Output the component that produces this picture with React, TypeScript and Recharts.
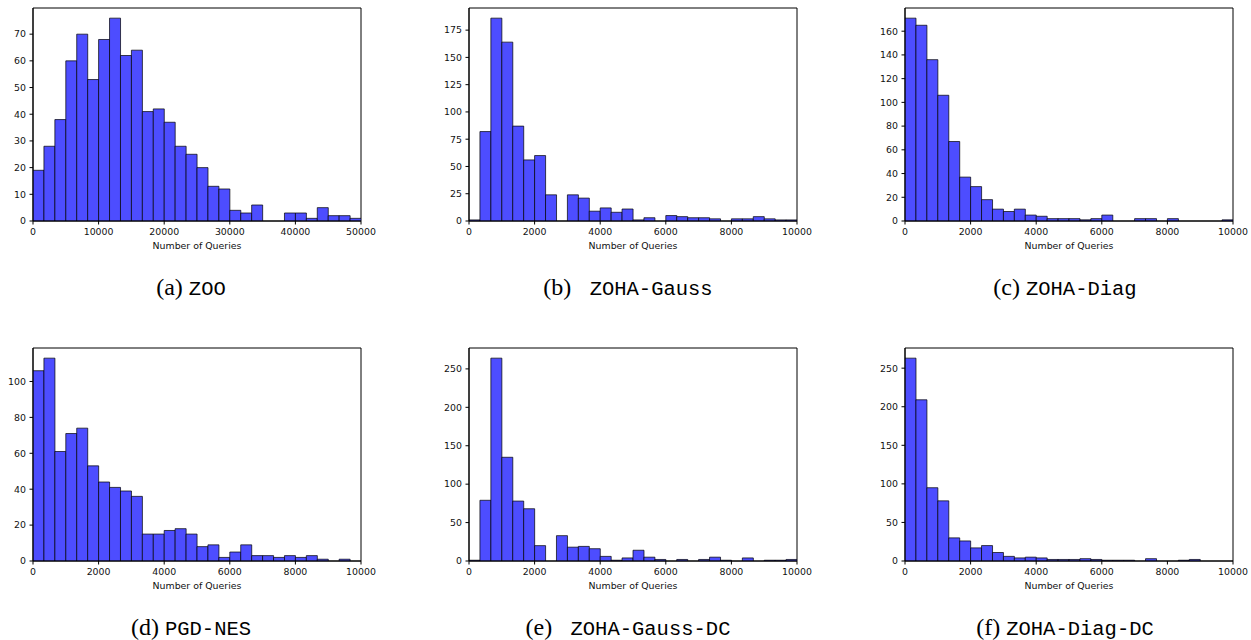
import { BarChart, Bar, XAxis, YAxis, ReferenceArea } from 'recharts'

// bin counts (30 equal bins each)
const zooCounts = [19, 28, 38, 60, 70, 53, 68, 76, 62, 64, 41, 42, 37, 28, 25, 20, 13, 12, 4, 3, 6, 0, 0, 3, 3, 1, 5, 2, 2, 1]
const gaussCounts = [1, 82, 186, 164, 87, 56, 60, 24, 0, 24, 21, 9, 12, 8, 11, 1, 3, 0, 5, 4, 3, 3, 2, 0, 2, 2, 4, 2, 1, 1]
const diagCounts = [171, 165, 136, 106, 67, 37, 29, 18, 10, 8, 10, 5, 4, 2, 2, 2, 1, 2, 5, 0, 0, 2, 2, 0, 2, 0, 0, 0, 0, 1]
const nesCounts = [106, 113, 61, 71, 74, 53, 44, 41, 39, 36, 15, 15, 17, 18, 15, 8, 9, 2, 5, 9, 3, 3, 2, 3, 2, 3, 1, 0, 1, 0]
const gaussDcCounts = [1, 79, 264, 135, 78, 68, 20, 0, 33, 18, 19, 16, 6, 1, 4, 14, 5, 2, 0, 2, 0, 2, 5, 1, 0, 4, 0, 1, 1, 2]
const diagDcCounts = [263, 209, 95, 78, 30, 26, 17, 20, 11, 6, 4, 5, 4, 2, 2, 2, 3, 2, 1, 1, 1, 0, 3, 0, 0, 1, 2, 0, 0, 0]

const xTicks50k = [0, 10000, 20000, 30000, 40000, 50000]
const xTicks10k = [0, 2000, 4000, 6000, 8000, 10000]
const yTicksZoo = [0, 10, 20, 30, 40, 50, 60, 70]
const yTicksGauss = [0, 25, 50, 75, 100, 125, 150, 175]
const yTicksDiag = [0, 20, 40, 60, 80, 100, 120, 140, 160]
const yTicksNes = [0, 20, 40, 60, 80, 100]
const yTicks250 = [0, 50, 100, 150, 200, 250]

const tags = ['(a)', '(b)', '(c)', '(d)', '(e)', '(f)']
const methods = ['ZOO', ' ZOHA-Gauss', 'ZOHA-Diag', 'PGD-NES', ' ZOHA-Gauss-DC', 'ZOHA-Diag-DC']

const panels = [
  { counts: zooCounts, xMax: 50000, xTicks: xTicks50k, yTicks: yTicksZoo },
  { counts: gaussCounts, xMax: 10000, xTicks: xTicks10k, yTicks: yTicksGauss },
  { counts: diagCounts, xMax: 10000, xTicks: xTicks10k, yTicks: yTicksDiag },
  { counts: nesCounts, xMax: 10000, xTicks: xTicks10k, yTicks: yTicksNes },
  { counts: gaussDcCounts, xMax: 10000, xTicks: xTicks10k, yTicks: yTicks250 },
  { counts: diagDcCounts, xMax: 10000, xTicks: xTicks10k, yTicks: yTicks250 },
]

const plotLefts = [33, 469, 905]
const plotTops = [8, 348]
const captionCenters = [191, 628, 1065]
const captionTops = [275, 615]

const tickStyle = { fill: '#111', fontSize: 9.4, fontFamily: 'DejaVu Sans' }

interface HistogramProps {
  counts: number[]
  xMax: number
  xTicks: number[]
  yTicks: number[]
}

function Histogram({ counts, xMax, xTicks, yTicks }: HistogramProps) {
  const binWidth = xMax / counts.length
  const data = counts.map((count, i) => ({ x: (i + 0.5) * binWidth, count }))
  const yMax = Math.max(...counts) * 1.05

  return (
    <BarChart
      width={381}
      height={255}
      data={data}
      margin={{ top: 8, right: 20, bottom: 4, left: 5 }}
      barCategoryGap={0}
      barGap={0}
    >
      <XAxis
        dataKey="x"
        type="number"
        domain={[0, xMax]}
        ticks={xTicks}
        allowDataOverflow
        interval={0}
        height={30}
        tick={tickStyle}
        tickSize={3.5}
        tickMargin={3.5}
        stroke="#000"
        label={{
          value: 'Number of Queries',
          position: 'insideBottom',
          offset: 2,
          fill: '#111',
          fontSize: 9.4,
          fontFamily: 'DejaVu Sans',
        }}
      />
      <YAxis
        type="number"
        domain={[0, yMax]}
        ticks={yTicks}
        allowDataOverflow
        interval={0}
        width={28}
        tick={tickStyle}
        tickSize={3.5}
        tickMargin={3.5}
        stroke="#000"
      />
      <Bar
        dataKey="count"
        fill="#4d4dff"
        stroke="#000"
        strokeOpacity={0.7}
        strokeWidth={1}
        isAnimationActive={false}
      />
      <ReferenceArea
        x1={0}
        x2={xMax}
        y1={0}
        y2={yMax}
        fill="none"
        fillOpacity={0}
        stroke="#000"
        strokeWidth={1}
        ifOverflow="visible"
      />
    </BarChart>
  )
}

export default function App() {
  return (
    <div
      style={{
        position: 'absolute',
        left: 0,
        top: 0,
        width: 1251,
        height: 640,
        background: '#fff',
        overflow: 'hidden',
      }}
    >
      {panels.map((p, i) => {
        const col = i % 3
        const row = Math.floor(i / 3)
        return (
          <div key={i}>
            <div style={{ position: 'absolute', left: plotLefts[col] - 33, top: plotTops[row] - 8 }}>
              <Histogram {...p} />
            </div>
            <div
              style={{
                position: 'absolute',
                left: captionCenters[col] - 150,
                width: 300,
                top: captionTops[row],
                textAlign: 'center',
                whiteSpace: 'pre',
                lineHeight: '24px',
                color: '#000',
              }}
            >
              <span style={{ fontFamily: 'Liberation Serif', fontSize: 24 }}>{tags[i] + ' '}</span>
              <span style={{ fontFamily: 'Liberation Mono', fontSize: 20.5 }}>{methods[i]}</span>
            </div>
          </div>
        )
      })}
    </div>
  )
}
